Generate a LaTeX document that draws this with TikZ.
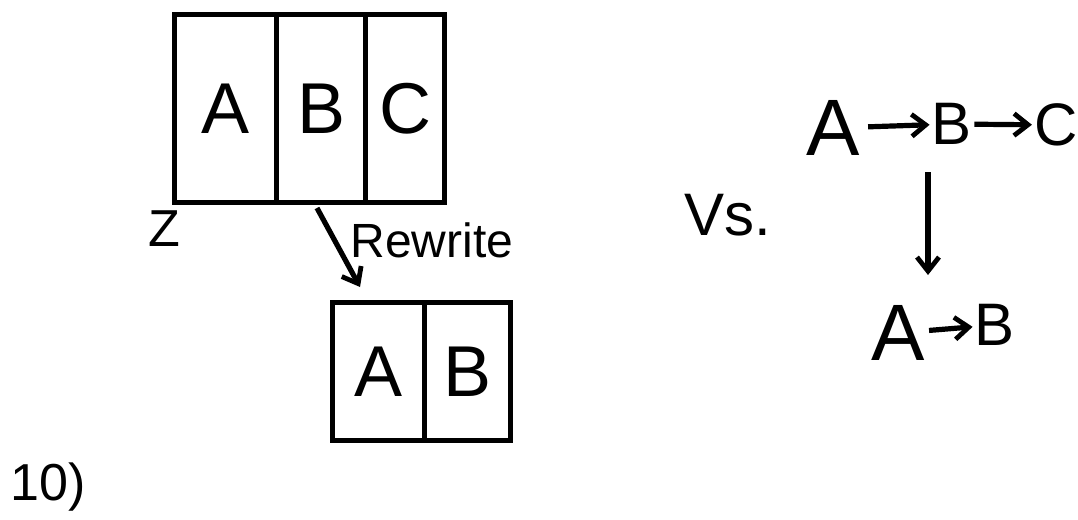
\documentclass[tikz,border=0pt]{standalone}
\usepackage{fontspec}
\setmainfont{Liberation Sans}
\usetikzlibrary{arrows.meta,calc}
\begin{document}
\begin{tikzpicture}[x=0.5pt,y=-0.5pt,
  cell/.style={draw,line width=2.6pt,inner sep=0pt,anchor=north west,font=\fontsize{36}{38}\selectfont},
  lbl/.style={inner sep=0pt,font=\fontsize{30}{32}\selectfont},
  big/.style={inner sep=0pt,font=\fontsize{40}{42}\selectfont},
  small/.style={inner sep=0pt,font=\fontsize{24}{26}\selectfont},
  arr/.style={line width=2.6pt,-{Straight Barb[length=7pt,width=11pt,line width=2.4pt]}}]
\useasboundingbox (0,0) rectangle (1078,520);
% top box A|B|C
\node[cell,minimum width=102pt*0.5,minimum height=188pt*0.5] (cA) at (172,12) {A};
\node[cell,minimum width=89pt*0.5,minimum height=188pt*0.5] (cB) at (274,12) {B};
\node[cell,minimum width=79pt*0.5,minimum height=188pt*0.5] (cC) at (363,12) {C};
\node[lbl,font=\fontsize{26}{28}\selectfont] (z) at (164,229) {Z};
% bottom box A|B
\node[cell,minimum width=92pt*0.5,minimum height=138pt*0.5] (dA) at (330,300) {A};
\node[cell,minimum width=86pt*0.5,minimum height=138pt*0.5] (dB) at (422,300) {B};
% rewrite arrow
\coordinate (rw1) at (317,208);
\coordinate (rw2) at (360,287);
\draw[arr] (rw1) -- (rw2);
\node[small,anchor=west] (rw) at (350,240) {Rewrite};
% right side
\node[lbl] (vs) at (728,215) {Vs.};
\node[big] (tA) at (833,128) {A};
\node[lbl] (tB) at (952,124) {B};
\node[lbl] (tC) at (1056,125) {C};
\draw[arr,shorten <=4pt,shorten >=1pt] (tA) -- (tB);
\draw[arr,shorten <=1pt,shorten >=1pt] (tB) -- (tC);
\coordinate (v1) at (928,172);
\coordinate (v2) at (928,275);
\draw[arr] (v1) -- (v2);
\node[big] (uA) at (898,333) {A};
\node[lbl] (uB) at (995,325) {B};
\draw[arr,shorten <=2pt,shorten >=1pt] (uA) -- (uB);
\node[lbl,font=\fontsize{26}{28}\selectfont] (n10) at (48,487) {10)};
\end{tikzpicture}
\end{document}
